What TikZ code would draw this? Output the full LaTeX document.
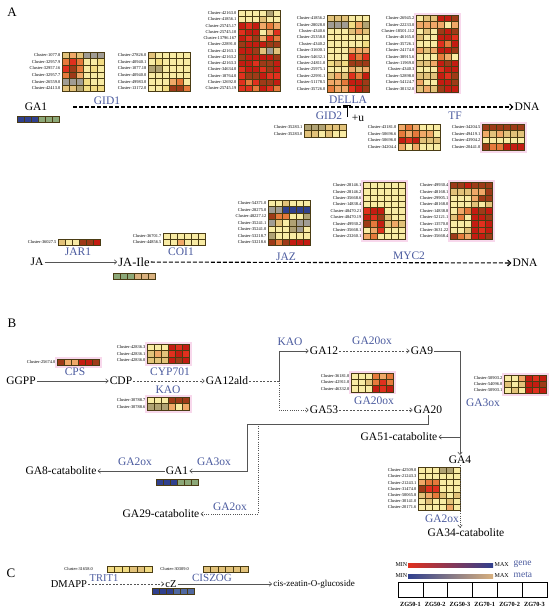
\documentclass[tikz,border=0pt]{standalone}
\usepackage{fontspec}
\setmainfont{Liberation Serif}
\usetikzlibrary{arrows.meta}

% heatmap colours
\definecolor{hY}{HTML}{F8EBA4}
\definecolor{hy}{HTML}{F2DC84}
\definecolor{ht}{HTML}{E2C27A}
\definecolor{ho}{HTML}{F0A868}
\definecolor{hO}{HTML}{E67A3C}
\definecolor{hr}{HTML}{E0301E}
\definecolor{hR}{HTML}{C41C12}
\definecolor{hd}{HTML}{9E3A18}
\definecolor{hg}{HTML}{B0A274}
\definecolor{hG}{HTML}{A09C94}
\definecolor{hb}{HTML}{30408E}
\definecolor{hB}{HTML}{5068A0}
\definecolor{he}{HTML}{8CA878}
\definecolor{hn}{HTML}{D8B07E}
\definecolor{enz}{HTML}{4A5A9E}
\definecolor{pinkhalo}{HTML}{F8D8EC}
\definecolor{gridline}{HTML}{4A3C14}
\definecolor{pathgrey}{HTML}{555555}

\def\cw{7}
\def\lgap{1.5}
% heatmap: [halo], name, origin, cell height, rows, cluster labels
\newcommand{\hmap}[6][fill=none]{%
  \begin{scope}[shift={(#3)}]
    \foreach \row [count=\i] in {#5}{\xdef\nrows{\i}}
    \fill[#1] (-2.5,-2.5) rectangle ({6*\cw+2.5},{\nrows*#4+2.5});
    \foreach \row [count=\i] in {#5}
      \foreach \c [count=\j] in \row
        \filldraw[cell, fill=h\c] ({(\j-1)*\cw},{(\i-1)*#4}) rectangle ++(\cw,#4);
    \foreach \lab [count=\i] in {#6}
      \node[clabel] (#2-\i) at (-\lgap,{(\i-0.5)*#4}) {Cluster-\lab};
  \end{scope}}
% bar under a metabolite: origin, cell height, colours
\newcommand{\mbar}[3]{%
  \begin{scope}[shift={(#1)}]
    \foreach \c [count=\j] in {#3}
      \filldraw[cell, fill=h\c] ({(\j-1)*\cw},0) rectangle ++(\cw,#2);
  \end{scope}}

\begin{document}
\begin{tikzpicture}[x=1pt,y=-1pt,
  cell/.style={draw=gridline, line width=0.4pt},
  clabel/.style={anchor=east, inner sep=0pt, font=\fontsize{4.4}{4.8}\selectfont},
  met/.style={inner sep=1pt, font=\fontsize{11.5}{13}\selectfont},
  enzyme/.style={met, text=enz},
  small/.style={inner sep=1pt, font=\fontsize{10.5}{12}\selectfont},
  panel/.style={inner sep=0pt, font=\fontsize{13}{15}\selectfont},
  halo/.style={fill=pinkhalo},
  dnaline/.style={line width=1.1pt, dash pattern=on 4pt off 2pt, -{Straight Barb[length=3pt,width=6pt]}},
  pathline/.style={draw=pathgrey, line width=0.6pt, -{Straight Barb[length=2.5pt,width=4.5pt]}},
  dashpath/.style={pathline, dash pattern=on 2pt off 1.5pt},
  dotpath/.style={pathline, dash pattern=on 1pt off 1.2pt}]
\useasboundingbox (0,0) rectangle (550,613);

%% A
\node[panel] (pa) at (12,12) {A};
\hmap{gida}{62,52}{6.6}{{t,o,t,G,G,G},{O,r,O,Y,Y,y},{r,d,O,Y,y,Y},{O,d,o,Y,Y,Y},{G,G,G,y,Y,Y},{t,t,g,y,y,y}}
  {1077.8,32957.9,32957.16,32957.7,26559.0,42413.0}
\hmap{gidb}{148,52}{6.6}{{t,Y,Y,Y,Y,Y},{Y,y,Y,Y,Y,Y},{g,g,Y,Y,Y,Y},{Y,Y,Y,Y,Y,Y},{Y,Y,Y,o,O,Y},{Y,Y,y,d,d,O}}
  {27826.0,40940.1,1077.18,40940.0,49983.0,13172.0}
\hmap{dela}{238,10}{6.25}{{Y,Y,Y,Y,g,Y},{Y,Y,Y,t,Y,Y},{R,r,R,o,O,o},{r,R,R,Y,o,r},{R,r,d,o,r,O},{d,R,R,R,d,d},{R,R,d,t,G,t},
  {d,R,R,R,R,d},{R,R,r,d,d,R},{r,R,R,r,d,R},{r,d,d,R,r,r},{r,O,r,d,d,R},{r,r,O,R,r,O}}
  {42163.0,41856.1,25745.17,25745.10,13796.167,22891.0,42163.1,42163.2,42163.3,34634.0,18764.0,12692.0,25745.19}
\hmap{delb}{327,15}{6.4}{{t,t,t,Y,Y,Y},{G,G,G,y,o,g},{Y,Y,Y,t,o,t},{Y,Y,Y,Y,Y,Y},{Y,Y,Y,Y,Y,y},{Y,Y,Y,o,o,o},
  {Y,Y,Y,r,O,r},{y,t,y,d,d,d},{Y,Y,Y,o,t,o},{t,o,t,r,O,R},{o,o,O,R,R,d},{O,o,o,r,R,d}}
  {41856.2,28028.0,4340.6,25358.0,4340.2,31600.1,54632.1,24811.0,25975.1,22991.1,51178.5,35726.0}
\hmap[halo]{delc}{416,15}{6.4}{{Y,t,t,R,R,d},{o,o,o,o,Y,o},{Y,t,Y,d,R,d},{t,Y,Y,R,R,r},{Y,Y,Y,r,O,R},{o,t,o,R,R,d},
  {Y,Y,Y,O,o,Y},{t,t,o,R,d,R},{Y,Y,Y,r,R,R},{t,t,t,R,r,d},{o,Y,Y,R,R,d},{t,o,t,d,R,R}}
  {26945.2,22233.0,18501.112,46165.0,35726.1,24174.0,38915.6,11969.0,4340.3,52898.0,54124.7,30132.0}

\node[met] (gaonea) at (36,107) {GA1};
\mbar{17,116}{6.5}{b,b,b,e,e,e}
\node[enzyme] (gidone) at (107,101) {GID1};
\node[enzyme] (della) at (348,100) {DELLA};
\coordinate (gastart) at (73,107);
\node[met] (dnaa) at (527,107) {DNA};
\draw[dnaline] (gastart) -- (dnaa);

\node[enzyme] (gidtwo) at (329,116) {GID2};
\coordinate (gidbot) at (347,117);
\coordinate (gidtop) at (347,105);
\draw[line width=0.6pt, -{Bar[width=8pt]}] (gidbot) -- (gidtop);
\node[met] (plusu) at (358,118) {+u};
\hmap{gidc}{304,124}{6.5}{{g,g,g,t,t,t},{t,t,Y,t,Y,Y}}{35283.1,35283.0}
\node[enzyme] (tf) at (455,116) {TF};
\hmap{tfa}{398,124}{6.5}{{o,O,o,Y,Y,Y},{O,o,O,o,o,Y},{R,r,R,t,t,t},{o,Y,o,Y,Y,Y}}
  {43181.0,50696.6,50696.0,34204.4}
\hmap[halo]{tfb}{482,124}{6.5}{{d,d,d,d,d,d},{o,t,o,t,t,t},{Y,Y,Y,Y,Y,Y},{d,O,O,R,R,R}}
  {34204.5,49419.1,43904.2,20441.0}

\hmap{jar}{58,239}{6.5}{{t,Y,Y,d,d,R}}{36027.5}
\hmap{coi}{163,233}{6}{{Y,Y,Y,Y,Y,Y},{Y,Y,o,Y,Y,Y}}{36701.7,44856.5}
\hmap{jaz}{268,200}{6.5}{{Y,Y,t,Y,Y,Y},{G,G,b,b,b,b},{d,O,O,Y,Y,g},{G,t,Y,g,G,G},{Y,Y,Y,g,G,Y},{g,Y,Y,Y,Y,Y},{d,O,d,R,R,R}}
  {54371.0,28275.0,48227.12,35241.1,35241.0,53218.7,53218.6}
\hmap[halo]{myca}{363,182}{6.4}{{Y,Y,Y,Y,Y,Y},{Y,Y,Y,Y,Y,Y},{Y,Y,Y,Y,Y,Y},{Y,Y,Y,Y,Y,Y},{r,R,R,Y,Y,Y},{R,r,d,t,Y,Y},
  {d,O,R,t,o,t},{Y,o,r,Y,Y,Y},{o,O,Y,Y,Y,Y}}
  {28146.1,28146.2,35668.6,14838.4,48470.21,48470.19,49930.2,35668.1,23260.1}
\hmap[halo]{mycb}{450,182}{6.4}{{d,d,R,d,d,d},{t,t,t,o,o,d},{Y,Y,Y,o,d,d},{Y,Y,Y,t,Y,t},{Y,o,O,R,d,R},{t,O,Y,R,R,d},
  {Y,Y,Y,R,r,R},{Y,Y,t,R,r,R},{d,O,o,R,R,d}}
  {49930.4,48168.1,29905.1,48168.0,14838.8,52121.1,13570.0,3631.22,35668.4}

\node[enzyme] (jarone) at (78,252) {JAR1};
\node[enzyme] (coione) at (181,252) {COI1};
\node[enzyme] (jazlab) at (286,257) {JAZ};
\node[enzyme] (myctwo) at (409,256) {MYC2};
\node[met] (ja) at (37,262) {JA};
\node[met, font=\fontsize{12.5}{14}\selectfont] (jaile) at (134,262) {JA-Ile};
\node[met] (dnab) at (525,263) {DNA};
\draw[pathline] (ja) -- (jaile);
\draw[dnaline] (jaile) -- (dnab);
\mbar{113,273}{6.5}{e,e,e,n,n,n}

%% B
\node[panel] (pb) at (12,323) {B};
\hmap[halo]{cps}{57,359}{6}{{d,o,o,R,R,d}}{25674.0}
\hmap[halo]{cyp}{147,344}{6.4}{{Y,Y,Y,R,r,R},{t,o,t,r,R,r},{t,t,t,R,d,R}}{42836.3,42836.1,42836.0}
\hmap[halo]{kao}{147,397}{6.5}{{Y,Y,Y,d,d,d},{g,g,g,o,Y,o}}{30788.7,30788.6}
\hmap[halo]{gatw}{351,373}{6.3}{{Y,Y,Y,O,o,O},{Y,Y,t,O,r,O},{Y,Y,Y,R,r,R}}{36181.0,42911.0,46332.0}
\hmap[halo]{gath}{504,375}{6}{{Y,Y,o,R,r,R},{t,Y,t,R,R,d},{Y,t,Y,R,r,R}}{50903.2,54096.0,50903.1}
\hmap{gafo}{418,467}{6.2}{{Y,Y,Y,g,g,Y},{Y,Y,Y,Y,Y,Y},{o,O,O,Y,Y,Y},{d,r,r,Y,Y,Y},{t,o,O,t,Y,t},{Y,t,Y,Y,t,Y},{Y,Y,Y,Y,o,Y}}
  {42509.0,21243.3,21243.1,31474.0,50065.8,30141.0,20171.6}

\node[enzyme] (cpslab) at (75,372) {CPS};
\node[enzyme] (cyplab) at (170,372) {CYP701};
\node[enzyme] (kaolab) at (168,390) {KAO};
\node[enzyme] (kaolabb) at (290,342) {KAO};
\node[enzyme] (gatwoxa) at (372,341) {GA20ox};
\node[enzyme] (gatwoxb) at (374,401) {GA20ox};
\node[enzyme] (gathoxa) at (483,403) {GA3ox};
\node[enzyme] (gathoxb) at (214,462) {GA3ox};
\node[enzyme] (gaoxa) at (135,462) {GA2ox};
\node[enzyme] (gaoxb) at (230,507) {GA2ox};
\node[enzyme] (gaoxc) at (442,519) {GA2ox};

\node[met] (ggpp) at (21,381) {GGPP};
\node[met] (cdp) at (121,381) {CDP};
\node[met] (gaald) at (227,381) {GA12ald};
\draw[pathline] (ggpp) -- (cdp);
\draw[dashpath] (cdp) -- (gaald);
\coordinate (kaojoin) at (279,381);
\draw[dashpath, -] (gaald) -- (kaojoin);
\node[met] (gatwelve) at (324,351) {GA12};
\node[met] (ganine) at (422,351) {GA9};
\node[met] (gafiftythree) at (324,410) {GA53};
\node[met] (gatwenty) at (428,410) {GA20};
\draw[pathline] (kaojoin) |- (gatwelve);
\draw[dotpath] (kaojoin) |- (gafiftythree);
\draw[dashpath] (gatwelve) -- (ganine);
\draw[dashpath] (gafiftythree) -- (gatwenty);
\node[met] (gafour) at (460,460) {GA4};
\draw[pathline] (ganine) -| (gafour);
\node[met] (gafiftyone) at (399,437) {GA51-catabolite};
\coordinate (fourjoin) at (460,437);
\draw[pathline] (fourjoin) -- (gafiftyone);
\node[met] (gaone) at (177,471) {GA1};
\mbar{156,479}{6}{b,b,b,e,e,e}
\node[met] (gaeight) at (61,471) {GA8-catabolite};
\coordinate (twentyjoin) at (247,424);
\draw[pathline] (gatwenty) |- (twentyjoin) |- (gaone);
\draw[pathline] (gaone) -- (gaeight);
\coordinate (dotjoin) at (258,424);
\node[met] (gatwentynine) at (161,514) {GA29-catabolite};
\draw[dotpath] (dotjoin) |- (gatwentynine);
\node[met] (gathirtyfour) at (466,533) {GA34-catabolite};
\draw[dotpath] (gafour.south) -- (gafour.south |- gathirtyfour.north);

%% C
\node[panel] (pc) at (11,573) {C};
\begin{scope}
\def\cw{7.5}\def\lgap{14}
\hmap{trit}{107,566}{6.5}{{y,y,y,t,t,y}}{31658.0}
\hmap{cisz}{203,566}{6.5}{{t,t,t,t,t,t}}{30309.0}
\end{scope}
\node[small, text=enz] (tritone) at (104,578) {TRIT1};
\node[small, text=enz, font=\fontsize{11}{12}\selectfont] (ciszog) at (212,578) {CISZOG};
\node[small] (dmapp) at (69,584) {DMAPP};
\node[small] (cz) at (171,584) {cZ};
\node[small, font=\fontsize{9}{10}\selectfont] (czog) at (314,584) {cis-zeatin-O-glucoside};
\draw[dashpath] (dmapp) -- (cz);
\draw[pathline] (cz) -- (czog);
\mbar{152,588}{6}{b,b,b,B,B,B}

% legend
\node[anchor=east, inner sep=0.5pt, font=\fontsize{6}{6}\selectfont] (genemin) at (408,565) {MIN};
\shade[left color=hr, middle color=hy, right color=hb] (408,563) rectangle (493,567.5);
\node[anchor=west, inner sep=0.5pt, font=\fontsize{6}{6}\selectfont] (genemax) at (494,565) {MAX};
\node[anchor=west, inner sep=0.5pt, text=enz, font=\fontsize{9.5}{10}\selectfont] (genelab) at (513,564) {gene};
\node[anchor=east, inner sep=0.5pt, font=\fontsize{6}{6}\selectfont] (metamin) at (408,576) {MIN};
\shade[left color=hb, middle color=he, right color=hn] (408,574) rectangle (493,578.5);
\node[anchor=west, inner sep=0.5pt, font=\fontsize{6}{6}\selectfont] (metamax) at (494,576) {MAX};
\node[anchor=west, inner sep=0.5pt, text=enz, font=\fontsize{9.5}{10}\selectfont] (metalab) at (513,575) {meta};
\foreach \k/\s in {0/ZG50-1,1/ZG50-2,2/ZG50-3,3/ZG70-1,4/ZG70-2,5/ZG70-3}{
  \draw[line width=0.4pt] ({398+\k*24.8},582) rectangle ++(24.8,15);
  \node[inner sep=0pt, font=\bfseries\fontsize{6.3}{7}\selectfont] (samp-\k) at ({398+(\k+0.5)*24.8},604) {\s};
}
\end{tikzpicture}
\end{document}
